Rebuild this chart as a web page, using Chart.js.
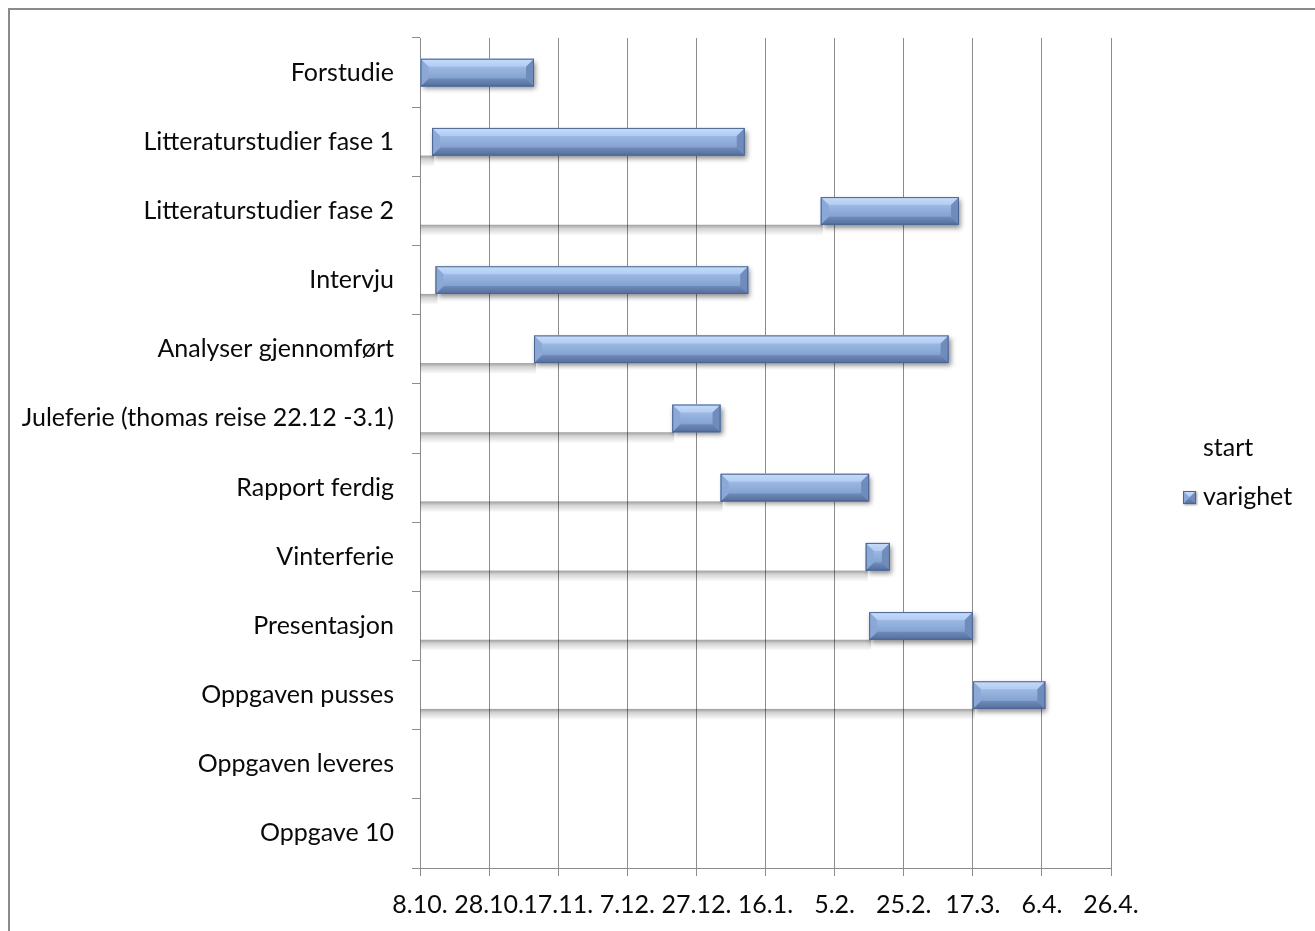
<!DOCTYPE html>
<html>
<head>
<meta charset="utf-8">
<script src="https://cdn.jsdelivr.net/npm/chart.js@4/dist/chart.umd.min.js"></script>
<style>
  html, body { margin: 0; padding: 0; background: #fff; overflow: hidden; }
  #frame { position: absolute; left: 8px; top: 8px; width: 1330px; height: 950px; border: 2px solid #8a8a8a; box-sizing: border-box; }
  #c { position: absolute; left: 0; top: 0; }
</style>
</head>
<body>
<div id="frame"></div>
<canvas id="c" width="1315" height="931"></canvas>
<script>
// Project plan: tasks, start offset (days after 8.10.) and duration in days
const categories = [
  'Forstudie',
  'Litteraturstudier fase 1',
  'Litteraturstudier fase 2',
  'Intervju',
  'Analyser gjennomført',
  'Juleferie (thomas reise 22.12 -3.1)',
  'Rapport ferdig',
  'Vinterferie',
  'Presentasjon',
  'Oppgaven pusses',
  'Oppgaven leveres',
  'Oppgave 10'
];
const start    = [0, 3.5, 116, 4.5, 33, 73, 87, 129, 130, 160, null, 0];
const varighet = [33, 90.5, 40, 90.5, 120, 14, 43, 7, 30, 21, null, 0];

// Date labels on the time axis, one every 20 days
const tickLabels = ['8.10.', '28.10.', '17.11.', '7.12.', '27.12.', '16.1.', '5.2.', '25.2.', '17.3.', '6.4.', '26.4.'];
const tickStep = 20;

const FONT = 'Lato, "Open Sans", sans-serif';
const FONT_SIZE = 25;
const TEXT = '#0a0a0a';
const GRID = '#8c8c8c';

// Paints the bevelled face of a bar over the base rectangle
function bevel(ctx, x0, y0, x1, y1) {
  const w = x1 - x0, h = y1 - y0;
  if (w <= 0.5) return;
  const b = Math.min(8, w / 2, h / 2);
  ctx.save();
  let g = ctx.createLinearGradient(0, y0, 0, y1);
  g.addColorStop(0, '#adc6ee');
  g.addColorStop(0.5, '#90aeda');
  g.addColorStop(1, '#7390c0');
  ctx.fillStyle = g;
  ctx.fillRect(x0, y0, w, h);
  // top bevel
  g = ctx.createLinearGradient(0, y0, 0, y0 + b);
  g.addColorStop(0, '#c8dcf8');
  g.addColorStop(1, '#b0cbf2');
  ctx.fillStyle = g;
  ctx.beginPath();
  ctx.moveTo(x0, y0); ctx.lineTo(x1, y0); ctx.lineTo(x1 - b, y0 + b); ctx.lineTo(x0 + b, y0 + b); ctx.closePath();
  ctx.fill();
  // bottom bevel
  g = ctx.createLinearGradient(0, y1 - b, 0, y1);
  g.addColorStop(0, '#6f8bba');
  g.addColorStop(1, '#536e9c');
  ctx.fillStyle = g;
  ctx.beginPath();
  ctx.moveTo(x0, y1); ctx.lineTo(x1, y1); ctx.lineTo(x1 - b, y1 - b); ctx.lineTo(x0 + b, y1 - b); ctx.closePath();
  ctx.fill();
  // left bevel
  ctx.fillStyle = 'rgba(138,168,214,0.95)';
  ctx.beginPath();
  ctx.moveTo(x0, y0); ctx.lineTo(x0 + b, y0 + b); ctx.lineTo(x0 + b, y1 - b); ctx.lineTo(x0, y1); ctx.closePath();
  ctx.fill();
  // right bevel
  ctx.fillStyle = 'rgba(110,138,186,0.95)';
  ctx.beginPath();
  ctx.moveTo(x1, y0); ctx.lineTo(x1 - b, y0 + b); ctx.lineTo(x1 - b, y1 - b); ctx.lineTo(x1, y1); ctx.closePath();
  ctx.fill();
  // outline
  ctx.strokeStyle = '#4b6490';
  ctx.lineWidth = 1;
  ctx.strokeRect(x0 + 0.5, y0 + 0.5, w - 1, h - 1);
  ctx.restore();
}

function barRect(el) {
  const p = el.getProps(['x', 'y', 'base', 'height'], true);
  const left = Math.min(p.x, p.base), right = Math.max(p.x, p.base);
  return { x0: left, x1: right, y0: p.y - p.height / 2, y1: p.y + p.height / 2 };
}

// Shadows and bevel effects for the two bar series
const barEffects = {
  id: 'barEffects',
  beforeDatasetDraw(chart, args) {
    const ctx = chart.ctx;
    ctx.save();
    if (args.index === 1) {
      ctx.shadowColor = 'rgba(0,0,0,0.45)';
      ctx.shadowBlur = 5;
      ctx.shadowOffsetX = 2;
      ctx.shadowOffsetY = 3;
    }
  },
  afterDatasetDraw(chart, args) {
    const ctx = chart.ctx;
    ctx.restore();
    if (args.index === 0) {
      // soft shadow under the invisible start bars
      args.meta.data.forEach((el, i) => {
        if (start[i] == null || start[i] <= 0) return;
        const r = barRect(el);
        ctx.save();
        const g = ctx.createLinearGradient(0, r.y1, 0, r.y1 + 11);
        g.addColorStop(0, 'rgba(0,0,0,0.38)');
        g.addColorStop(0.35, 'rgba(0,0,0,0.17)');
        g.addColorStop(1, 'rgba(0,0,0,0)');
        ctx.fillStyle = g;
        ctx.fillRect(r.x0, r.y1, r.x1 - r.x0 + 2, 11);
        ctx.restore();
      });
    } else if (args.index === 1) {
      args.meta.data.forEach((el, i) => {
        if (varighet[i] == null) return;
        const r = barRect(el);
        bevel(ctx, r.x0, r.y0, r.x1, r.y1);
      });
    }
  }
};

// Legend on the right: plain label for "start", bevelled box for "varighet"
const sideLegend = {
  id: 'sideLegend',
  afterDraw(chart) {
    const ctx = chart.ctx;
    const ds = chart.data.datasets;
    ctx.save();
    ctx.font = FONT_SIZE + 'px ' + FONT;
    ctx.fillStyle = TEXT;
    ctx.textAlign = 'left';
    ctx.textBaseline = 'middle';
    ctx.fillText(ds[0].label, 1203, 448);
    ctx.save();
    ctx.shadowColor = 'rgba(0,0,0,0.4)';
    ctx.shadowBlur = 2;
    ctx.shadowOffsetX = 1;
    ctx.shadowOffsetY = 1;
    ctx.fillStyle = '#7f9bc9';
    ctx.fillRect(1183, 491, 13, 13);
    ctx.restore();
    bevel(ctx, 1183, 491, 1196, 504);
    ctx.fillStyle = TEXT;
    ctx.fillText(ds[1].label, 1203, 497);
    ctx.restore();
  }
};

new Chart(document.getElementById('c'), {
  type: 'bar',
  data: {
    labels: categories,
    datasets: [
      { label: 'start', data: start, backgroundColor: 'rgba(0,0,0,0)', borderWidth: 0 },
      { label: 'varighet', data: varighet, backgroundColor: '#7f9bc9', borderWidth: 0 }
    ]
  },
  options: {
    indexAxis: 'y',
    responsive: false,
    animation: false,
    events: [],
    layout: { padding: { top: 38, right: 204, left: 0, bottom: 0 } },
    datasets: { bar: { categoryPercentage: 1, barPercentage: 0.4 } },
    plugins: {
      legend: { display: false },
      tooltip: { enabled: false }
    },
    scales: {
      x: {
        type: 'linear',
        stacked: true,
        min: 0,
        max: tickStep * (tickLabels.length - 1),
        afterFit(scale) { scale.height = 63; },
        ticks: {
          stepSize: tickStep,
          autoSkip: false,
          maxRotation: 0,
          padding: 14,
          color: TEXT,
          font: { family: FONT, size: FONT_SIZE },
          callback: (v, i) => tickLabels[i]
        },
        grid: { color: GRID, lineWidth: 1, tickLength: 8, drawOnChartArea: true },
        border: { color: GRID, width: 1 }
      },
      y: {
        stacked: true,
        afterFit(scale) { scale.width = 420; },
        ticks: {
          padding: 18,
          color: TEXT,
          font: { family: FONT, size: FONT_SIZE }
        },
        grid: { color: GRID, lineWidth: 1, tickLength: 8, drawOnChartArea: false, offset: true },
        border: { color: GRID, width: 1 }
      }
    }
  },
  plugins: [barEffects, sideLegend]
});
</script>
</body>
</html>
